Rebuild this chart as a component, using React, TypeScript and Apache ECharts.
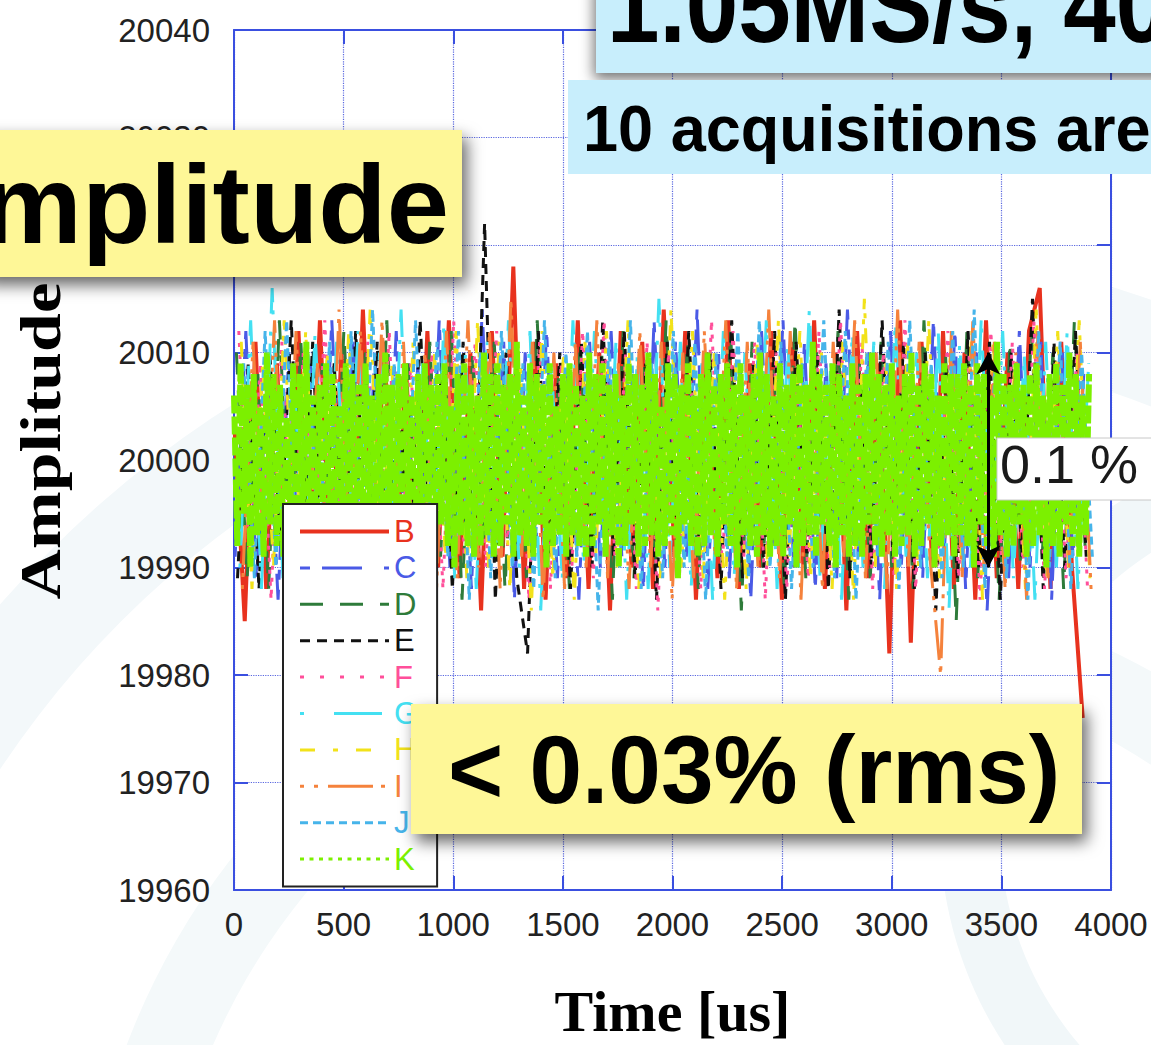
import React, { useEffect, useRef } from "react";
import * as echarts from "echarts";

// ---------------- data (deviation from the 20000 baseline) ----------------
const BASE_AMPLITUDE = 20000;
const SERIES_NAMES = ["B", "C", "D", "E", "F", "G", "H", "I", "J", "K"];
const SERIES_COLORS = ["#e8321e", "#4a5ae6", "#2e7b3a", "#111111", "#ff4f9a", "#44e0f2", "#f2e21a", "#f5823c", "#46b4ea", "#7cf000"];

// sampling grid of the shown traces (µs)
const COARSE_STEP_US = 49;
const COARSE_START_US = [0, 5, 11, 16, 22, 27, 33, 38, 44];
const K_STEP_US = 15;

const B_DEV = [4,-15,11,-12,9,-13,12,-10,13,-11,
  10,-12,14,-9,11,-13,9,-12,12,-10,
  13,-11,10,-14,12,-9,18,-12,11,-13,
  9,-11,13,-12,10,-14,12,-10,11,-12,
  14,-9,12,-13,10,-11,13,-12,9,-10,
  12,-13,11,-10,13,-12,10,-14,12,-11,
  9,-18,13,-17,11,-10,12,-12,10,-13,
  13,-11,10,-12,12,16,-12,11,-10,-24];
const C_DEV = [-9,12,-11,8,-13,10,-12,9,-10,13,
  -8,11,-12,10,-9,12,-14,9,-11,13,
  -10,8,-12,14,-9,11,-13,10,-8,12,
  -11,9,-13,11,-10,12,-9,8,-12,13,
  -10,11,-9,14,-12,10,-11,9,-13,12,
  -8,13,-10,11,-12,9,-11,14,-9,10,
  -13,12,-10,8,-11,13,-9,12,-12,10,
  -14,9,-11,12,-10,11,-13,10,-9,8];
const D_DEV = [10,-11,8,-12,13,-9,11,-10,9,-13,
  12,-8,10,-11,13,-12,9,-10,11,-9,
  12,-13,10,-8,11,-12,9,-11,13,-10,
  8,-12,11,-9,10,-13,12,-11,9,-10,
  13,-8,11,-12,10,-9,12,-14,11,-10,
  9,-12,13,-11,10,-8,12,-13,9,-11,
  11,-10,8,-12,13,-9,10,-15,12,-11,
  9,-13,11,-10,12,-9,10,-12,13,-8];
const E_DEV = [-11,9,-12,10,-8,13,-10,11,-13,9,
  -10,12,-9,11,-12,8,-11,13,-10,9,
  -12,11,-9,22,-13,10,-11,-18,12,-9,
  10,-12,11,-10,13,-9,12,-11,9,-13,
  11,-10,12,-8,10,-12,13,-11,9,-10,
  12,-13,11,-9,10,-12,14,-11,8,-10,
  13,-9,11,-12,10,-14,9,-11,12,-10,
  11,-13,10,-9,15,-12,11,-10,12,-9];
const F_DEV = [12,-10,9,-13,11,-12,10,-9,13,-11,
  8,-12,11,-10,12,-13,9,-11,10,-12,
  13,-9,11,-10,12,-8,10,-13,11,-12,
  9,-10,12,-11,13,-9,10,-12,11,-14,
  10,-11,9,-12,13,-10,12,-9,11,-13,
  10,-12,8,-11,12,-10,13,-9,11,-12,
  10,-11,13,-12,9,-10,12,-11,10,-13,
  12,-9,11,-10,13,-12,9,-11,10,-12];
const G_DEV = [-10,13,-12,16,-11,9,-13,12,-10,11,
  -9,12,-13,10,-11,14,-12,9,-10,13,
  -11,10,-12,11,-9,13,-10,12,-14,9,
  -11,13,-10,12,-9,11,-13,10,-12,15,
  -10,11,-12,9,-13,12,-11,10,-9,13,
  -12,11,-10,14,-11,9,-13,12,-10,11,
  -12,13,-9,10,-11,12,-14,11,-10,13,
  -9,12,-11,10,-13,11,-10,12,-12,9];
const H_DEV = [11,-12,9,-10,13,-11,12,-9,10,-13,
  12,-11,14,-10,9,-12,11,-13,10,-9,
  12,-11,13,-10,11,-12,9,-14,12,-11,
  10,-13,11,-9,12,-10,13,-12,9,-11,
  14,-10,12,-11,10,-13,9,-12,11,-10,
  13,-9,12,-11,10,-12,11,-13,15,-10,
  9,-12,11,-10,13,-11,10,-9,12,-13,
  11,-10,9,-12,14,-11,12,-10,13,-11];
const I_DEV = [-12,11,-9,13,-11,12,-10,9,-13,14,
  -10,12,-11,13,-9,11,-12,10,-14,12,
  -11,13,-10,12,-12,15,-9,11,-13,10,
  -12,11,-10,13,-11,9,-12,12,-10,11,
  -13,10,-11,12,-9,13,-12,11,-10,14,
  -11,12,-13,10,-12,11,-9,13,-11,10,
  -12,14,-10,11,-9,-20,12,-11,13,-10,
  11,-12,10,-13,12,-11,9,-10,11,-12];
const J_DEV = [9,-11,12,-10,13,-12,10,-9,11,-13,
  12,-10,14,-11,9,-12,13,-10,11,-9,
  12,-13,10,-11,12,-10,9,-12,13,-11,
  10,-9,12,-14,11,-10,13,-12,9,-11,
  12,-10,11,-13,10,-9,12,-11,13,-10,
  11,-12,9,-10,13,-11,12,-13,10,-9,
  11,-12,13,-10,9,-11,12,-10,14,-12,
  10,-11,9,-13,12,-10,11,-12,10,-9];
const K_DEV = [6,-8,9,-5,7,-10,8,-7,5,-9,10,-6,8,-8,7,-9,4,-7,9,-8,
  8,-6,11,-9,6,-8,7,-5,9,-8,8,-10,5,-7,9,-6,8,-9,7,-8,
  9,-7,6,-9,8,-8,10,-6,7,-9,8,-7,9,-5,6,-11,8,-8,9,-7,
  7,-9,8,-6,9,-8,5,-10,8,-7,9,-8,7,-9,6,-8,10,-7,8,-9,
  9,-8,7,-6,8,-9,11,-7,6,-8,9,-9,8,-6,7,-10,9,-8,5,-7,
  8,-9,9,-7,7,-8,6,-9,10,-8,8,-6,9,-9,7,-7,8,-10,6,-8,
  9,-6,8,-9,7,-8,10,-7,8,-9,5,-8,9,-7,8,-11,7,-6,9,-8,
  6,-9,8,-8,10,-7,7,-9,8,-6,9,-8,7,-10,9,-7,6,-8,8,-9,
  10,-7,8,-9,6,-8,9,-9,7,-6,8,-10,9,-8,7,-7,11,-9,8,-6,
  7,-8,9,-10,8,-7,6,-9,9,-8,7,-9,8,-6,10,-8,8,-9,7,-7,
  9,-9,6,-8,8,-7,10,-9,7,-8,9,-6,8,-10,6,-8,9,-7,8,-9,
  8,-7,9,-8,7,-10,9,-6,8,-8,6,-9,11,-7,8,-9,7,-8,9,-6,
  7,-9,8,-8,9,-7,6,-10,8,-8,9,-9,7,-6,10,-8,8,-9,6,-7,
  8];

const COARSE_SERIES = [B_DEV, C_DEV, D_DEV, E_DEV, F_DEV, G_DEV, H_DEV, I_DEV, J_DEV];

const X_MIN = 0, X_MAX = 4000, X_STEP = 500;
const Y_MIN = 19960, Y_MAX = 20040, Y_STEP = 10;
const ARROW_TIME_US = 3440;
const ARROW_TOP = 20010, ARROW_BOTTOM = 19990;

// line dash patterns as they appear in the plot and in the key
const PLOT_DASH: any[] = ["solid", [10, 10, 36, 10], [22, 16], [10, 7], [4, 8], [4, 18, 40, 8], [15, 10, 5, 10], [4, 8, 4, 8, 40, 8], [8, 5], [18, 3]];
const KEY_DASH: any[] = ["solid", [10, 12, 40, 22], [23, 17], [10, 7], [4, 16], [4, 30, 48, 10], [15, 18, 5, 18], [4, 10, 4, 10, 45, 8], [8, 5], [4, 5.5]];
const PLOT_WIDTH = [4, 3, 3, 3, 3, 3, 3, 3, 3, 6];

const SANS = '"Liberation Sans", Arial, sans-serif';
const SERIF = '"Liberation Serif", "Times New Roman", serif';
const AXIS_BLUE = "#3a4fe0";
const LABEL_HIDDEN_BEHIND_BOX = 20020;

function buildOption() {
  const series: any[] = SERIES_NAMES.map((name, k) => {
    const isK = k === 9;
    const values = isK ? K_DEV : COARSE_SERIES[k];
    const data = values.map((d, i) => [
      isK ? i * K_STEP_US : COARSE_START_US[k] + i * COARSE_STEP_US,
      BASE_AMPLITUDE + d,
    ]);
    const s: any = {
      name,
      type: "line",
      data,
      symbol: "none",
      showSymbol: false,
      silent: true,
      z: 2,
      lineStyle: {
        color: SERIES_COLORS[k],
        width: PLOT_WIDTH[k],
        type: PLOT_DASH[k],
        join: "bevel",
      },
      itemStyle: { color: SERIES_COLORS[k] },
    };
    if (isK) {
      s.markLine = {
        silent: true,
        symbol: ["arrow", "arrow"],
        symbolSize: [18, 22],
        lineStyle: { color: "#000", width: 3, type: "solid" },
        label: { show: false },
        data: [[{ coord: [ARROW_TIME_US, ARROW_TOP] }, { coord: [ARROW_TIME_US, ARROW_BOTTOM] }]],
      };
    }
    return s;
  });

  const axisCommon = {
    min: X_MIN,
    max: X_MAX,
    interval: X_STEP,
    type: "value",
  };

  const shadow = { shadowBlur: 16, shadowColor: "rgba(0,0,0,0.6)", shadowOffsetX: 5, shadowOffsetY: 8 };

  const graphic: any[] = [
    // faint watermark rings in the slide background
    { type: "ring", z: -10, silent: true, shape: { cx: 800, cy: 1300, r: 1060, r0: 960 }, style: { fill: "#f3f8fa" } },
    { type: "ring", z: -10, silent: true, shape: { cx: 800, cy: 1300, r: 720, r0: 640 }, style: { fill: "#f4f9fa" } },
    { type: "ring", z: -10, silent: true, shape: { cx: 1330, cy: 830, r: 390, r0: 330 }, style: { fill: "#f1f7f9" } },
    // vertical axis title
    {
      type: "text", z: 50, x: 41, y: 441, rotation: Math.PI / 2, scaleX: 1.2,
      style: { text: "Amplitude", font: `bold 58px ${SERIF}`, fill: "#000", textAlign: "center", textVerticalAlign: "middle", verticalAlign: "middle" },
    },
    // "0.1 %" annotation
    { type: "rect", z: 60, shape: { x: 997, y: 438, width: 170, height: 62 }, style: { fill: "#fff", stroke: "#c8c8c8", lineWidth: 1 } },
    {
      type: "text", z: 61, x: 1000, y: 464,
      style: { text: "0.1 %", font: `54px ${SANS}`, fill: "#1a1a1a", textAlign: "left", textVerticalAlign: "middle", verticalAlign: "middle" },
    },
    // top light-blue boxes
    { type: "rect", z: 100, shape: { x: 596, y: -20, width: 600, height: 93 }, style: { fill: "#c8eefc", shadowBlur: 14, shadowColor: "rgba(0,0,0,0.55)", shadowOffsetX: -2, shadowOffsetY: 6 } },
    {
      type: "text", z: 101, x: 607, y: 5, scaleX: 0.89,
      style: { text: "1.05MS/s, 40", font: `bold 106px ${SANS}`, fill: "#000", textAlign: "left", textVerticalAlign: "middle", verticalAlign: "middle" },
    },
    { type: "rect", z: 102, shape: { x: 568, y: 80, width: 600, height: 94 }, style: { fill: "#c8eefc" } },
    {
      type: "text", z: 103, x: 583, y: 128, scaleX: 0.985,
      style: { text: "10 acquisitions are", font: `bold 64px ${SANS}`, fill: "#000", textAlign: "left", textVerticalAlign: "middle", verticalAlign: "middle" },
    },
    // yellow boxes
    { type: "rect", z: 100, shape: { x: -20, y: 130, width: 482, height: 147 }, style: { fill: "#fef797", ...shadow } },
    {
      type: "text", z: 101, x: 449, y: 204,
      style: { text: "mplitude", font: `bold 112px ${SANS}`, fill: "#000", textAlign: "right", textVerticalAlign: "middle", verticalAlign: "middle" },
    },
    { type: "rect", z: 100, shape: { x: 411, y: 704, width: 671, height: 130 }, style: { fill: "#fef797", ...shadow } },
    {
      type: "text", z: 101, x: 448, y: 769, scaleX: 0.975,
      style: { text: "< 0.03% (rms)", font: `bold 97px ${SANS}`, fill: "#000", textAlign: "left", textVerticalAlign: "middle", verticalAlign: "middle" },
    },
  ];

  return {
    animation: false,
    backgroundColor: "transparent",
    textStyle: { fontFamily: SANS },
    grid: { left: 234, top: 30, width: 877, height: 864, containLabel: false, show: true, backgroundColor: "#fff", borderWidth: 0 },
    legend: {
      orient: "vertical",
      left: 283,
      top: 504,
      padding: [12, 19, 12, 15],
      itemWidth: 89,
      itemHeight: 20,
      itemGap: 5.4,
      backgroundColor: "#fff",
      borderColor: "#222",
      borderWidth: 2,
      borderRadius: 0,
      selectedMode: false,
      z: 5,
      textStyle: { fontSize: 31, fontFamily: SANS },
      data: SERIES_NAMES.map((name, k) => ({
        name,
        itemStyle: { opacity: 0 },
        lineStyle: { type: KEY_DASH[k], width: k === 0 ? 4 : 3, color: SERIES_COLORS[k], opacity: 1 },
        textStyle: { color: SERIES_COLORS[k], fontSize: 31 },
      })),
    },
    xAxis: [
      {
        ...axisCommon,
        position: "bottom",
        name: "Time [us]",
        nameLocation: "middle",
        nameGap: 92,
        nameTextStyle: { fontFamily: SERIF, fontWeight: "bold", fontSize: 58, color: "#000" },
        axisLine: { show: true, onZero: false, lineStyle: { color: AXIS_BLUE, width: 2 } },
        axisTick: { show: true, inside: true, length: 14, lineStyle: { color: AXIS_BLUE, width: 2 } },
        axisLabel: { show: true, margin: 18, fontSize: 33, color: "#222", fontFamily: SANS, formatter: (v: number) => String(v) },
        splitLine: { show: true, lineStyle: { color: "#5a68e0", width: 1.2, type: "dotted" } },
      },
      {
        ...axisCommon,
        position: "top",
        axisLine: { show: true, onZero: false, lineStyle: { color: AXIS_BLUE, width: 2 } },
        axisTick: { show: true, inside: true, length: 14, lineStyle: { color: AXIS_BLUE, width: 2 } },
        axisLabel: { show: false },
        splitLine: { show: false },
      },
    ],
    yAxis: [
      {
        type: "value",
        min: Y_MIN,
        max: Y_MAX,
        interval: Y_STEP,
        position: "left",
        axisLine: { show: true, onZero: false, lineStyle: { color: AXIS_BLUE, width: 2 } },
        axisTick: { show: true, inside: true, length: 14, lineStyle: { color: AXIS_BLUE, width: 2 } },
        axisLabel: {
          show: true, margin: 24, fontSize: 33, color: "#222", fontFamily: SANS,
          formatter: (v: number) => (v === LABEL_HIDDEN_BEHIND_BOX ? "" : String(v)),
        },
        splitLine: { show: true, lineStyle: { color: "#5a68e0", width: 1.2, type: "dotted" } },
      },
      {
        type: "value",
        min: Y_MIN,
        max: Y_MAX,
        interval: Y_STEP,
        position: "right",
        axisLine: { show: true, onZero: false, lineStyle: { color: AXIS_BLUE, width: 2 } },
        axisTick: { show: true, inside: true, length: 14, lineStyle: { color: AXIS_BLUE, width: 2 } },
        axisLabel: { show: false },
        splitLine: { show: false },
      },
    ],
    series,
    graphic,
  };
}

export default function App() {
  const ref = useRef<HTMLDivElement>(null);
  useEffect(() => {
    document.body.style.margin = "0";
    const chart = echarts.init(ref.current as HTMLDivElement, null, { renderer: "svg" });
    chart.setOption(buildOption() as any);
    return () => chart.dispose();
  }, []);
  return (
    <div
      ref={ref}
      style={{ position: "absolute", left: 0, top: 0, width: 1151, height: 1045, background: "#fff" }}
    />
  );
}
